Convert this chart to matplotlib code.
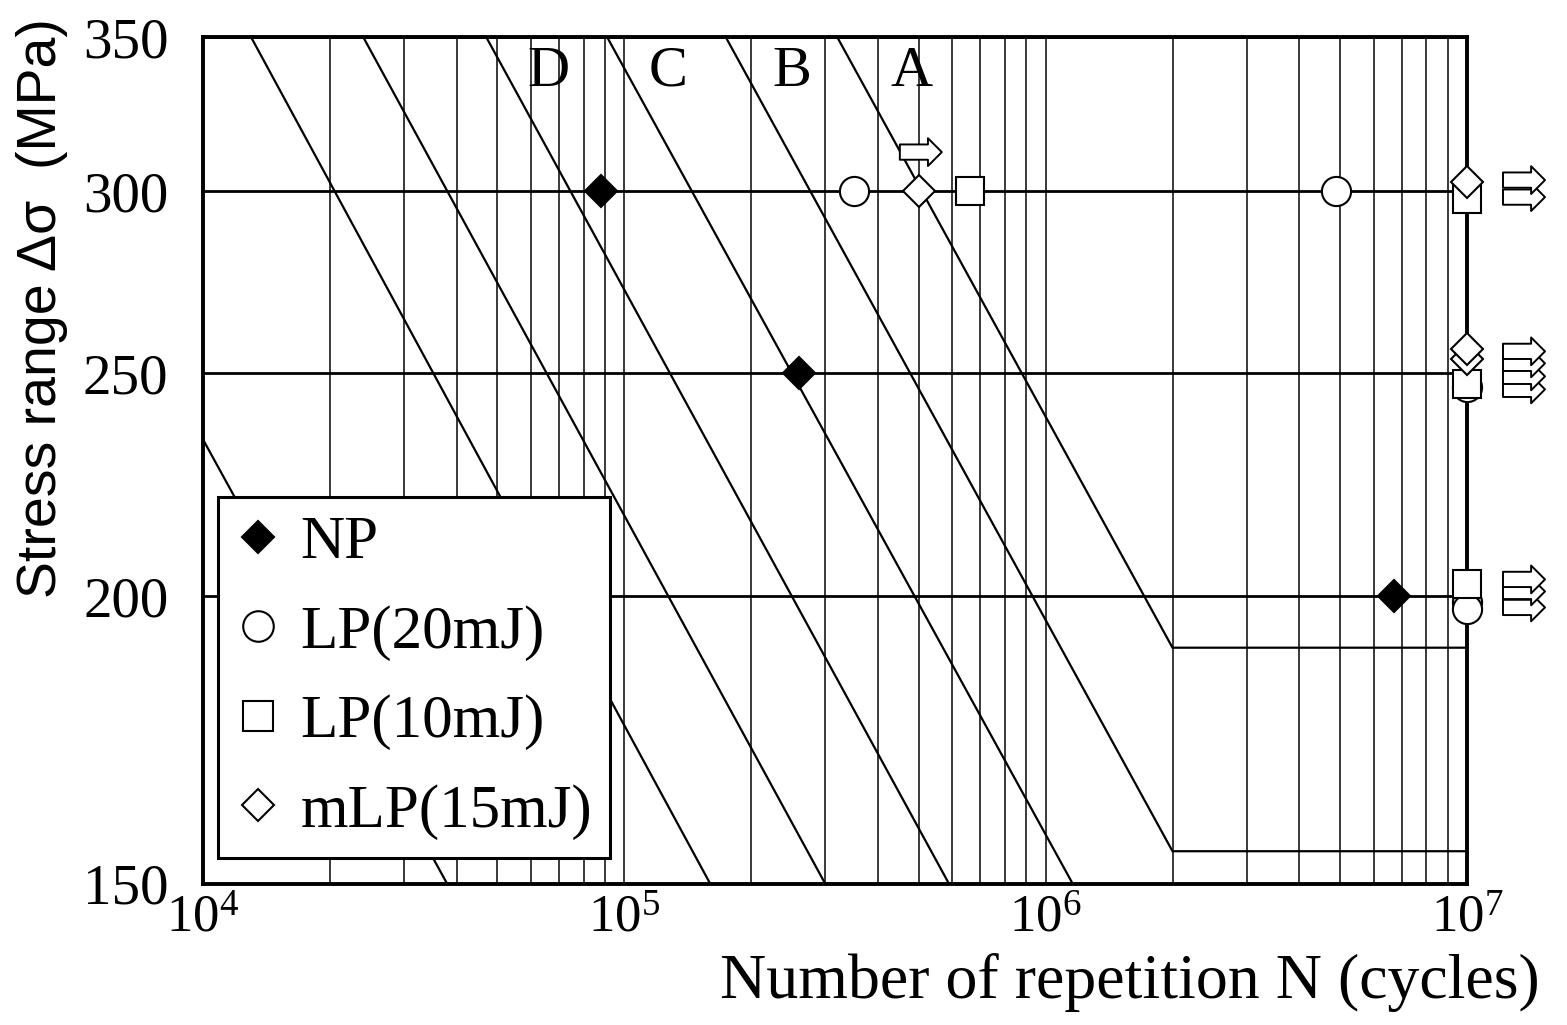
import matplotlib
matplotlib.use('Agg')
import matplotlib.pyplot as plt
import matplotlib.transforms as mtransforms
from matplotlib.ticker import FixedLocator, LogLocator, NullLocator, NullFormatter, FixedFormatter
from matplotlib.lines import Line2D

plt.rcParams['font.family'] = ['Liberation Serif', 'DejaVu Serif']
plt.rcParams['mathtext.fontset'] = 'stix'

# design curves, vertices (N, stress range)
curve_names = ['A', 'B', 'C', 'D', 'E', 'F', 'H']
curve_N = [[3.2e5, 2.0e6, 1.0e7],
           [1.74e5, 2.0e6, 1.0e7],
           [9.1e4, 1.16e6],
           [4.7e4, 5.9e5],
           [2.4e4, 3.0e5],
           [1.3e4, 1.6e5],
           [1.0e4, 3.8e4]]
curve_S = [[350, 190, 190],
           [350, 155, 155],
           [350, 150],
           [350, 150],
           [350, 150],
           [350, 150],
           [234, 150]]
label_names = ['A', 'B', 'C', 'D']
label_N = [4.8e5, 2.5e5, 1.27e5, 6.6e4]
label_S = [338, 338, 338, 338]

# broken specimens
np_N = [8.8e4, 2.6e5, 6.7e6]
np_S = [300, 250, 200]
lp20_N = [3.5e5, 4.9e6]
lp20_S = [300, 300]
lp10_N = [6.6e5]
lp10_S = [300]
mlp_N = [5.0e5]
mlp_S = [300]

# run-outs (unbroken at 1e7 cycles)
runout_N = [1e7, 1e7, 1e7, 1e7, 1e7, 1e7, 1e7, 1e7, 1e7]
runout_S = [250, 200, 200, 300, 250, 200, 300, 250, 250]
runout_kind = ['lp20', 'lp20', 'lp20', 'lp10', 'lp10', 'lp10', 'mlp', 'mlp', 'mlp']

# pixel nudges so overlapping run-outs stay visible
marker_dy = [-14, -6, -13, -8, -11, 12, 9, 14, 24]
arrow_dy = [-16, -11, 5, -6, -3, 17, 11, 10, 22]

styles = {
    'np':   dict(marker='D', ms=16, mfc='black', mec='black', mew=1.5),
    'lp20': dict(marker='o', ms=21, mfc='white', mec='black', mew=1.5),
    'lp10': dict(marker='s', ms=20, mfc='white', mec='black', mew=1.5),
    'mlp':  dict(marker='D', ms=16, mfc='white', mec='black', mew=1.5),
}

fig = plt.figure(figsize=(15.67, 10.25), dpi=100)
ax = fig.add_axes([203/1567, 1-884/1025, 1264/1567, 847/1025])
ax.set_xscale('log')
ax.set_yscale('log')
ax.set_xlim(1e4, 1e7)
ax.set_ylim(150, 350)

# grid
ax.xaxis.set_major_locator(LogLocator(base=10, numticks=10))
ax.xaxis.set_minor_locator(LogLocator(base=10, subs=range(2, 10), numticks=20))
ax.xaxis.set_minor_formatter(NullFormatter())
ax.yaxis.set_major_locator(FixedLocator([150, 200, 250, 300, 350]))
ax.yaxis.set_major_formatter(FixedFormatter(['150', '200', '250', '300', '350']))
ax.yaxis.set_minor_locator(NullLocator())
ax.grid(True, which='both', axis='x', color='#2a2a2a', lw=1.3)
ax.grid(True, which='major', axis='y', color='black', lw=2.0)
ax.set_axisbelow(True)
ax.tick_params(which='both', length=0)
ax.tick_params(axis='y', labelsize=41, pad=25)
ax.tick_params(axis='x', labelsize=38, pad=8)
for sp in ax.spines.values():
    sp.set_linewidth(2.8)

# design curves
for n, s in zip(curve_N, curve_S):
    ax.plot(n, s, color='black', lw=1.6, zorder=2)
for name, n, s in zip(label_names, label_N, label_S):
    ax.text(n, s, name, fontsize=42, ha='center', va='center')

# broken data
ax.plot(lp20_N, lp20_S, ls='none', zorder=4, **styles['lp20'])
ax.plot(lp10_N, lp10_S, ls='none', zorder=4, **styles['lp10'])
ax.plot(mlp_N, mlp_S, ls='none', zorder=4, **styles['mlp'])
ax.plot(np_N, np_S, ls='none', zorder=4, **styles['np'])

arrow_props = dict(arrowstyle='simple,head_length=1.0,head_width=2.0,tail_width=1.1',
                   mutation_scale=10, fc='white', ec='black', lw=1.4,
                   shrinkA=0, shrinkB=0)


def run_arrow(n, s, x0, x1, dy):
    head = mtransforms.offset_copy(ax.transData, fig=fig, x=x1, y=dy, units='dots')
    ax.annotate('', xy=(n, s), xycoords=head,
                xytext=(x0 - x1, 0), textcoords='offset pixels',
                arrowprops=arrow_props, annotation_clip=False, zorder=6)


# run-outs
for i, (n, s, k) in enumerate(zip(runout_N, runout_S, runout_kind)):
    tr = mtransforms.offset_copy(ax.transData, fig=fig, x=0, y=marker_dy[i], units='dots')
    ax.plot([n], [s], ls='none', transform=tr, clip_on=False, zorder=5 + i * 0.01, **styles[k])
    run_arrow(n, s, 36, 78, arrow_dy[i])

# arrow over the mLP point at 5e5
run_arrow(mlp_N[0], mlp_S[0], -19, 23, 39)

# legend
handles = [Line2D([], [], ls='none', **dict(styles['np'], ms=16)),
           Line2D([], [], ls='none', **dict(styles['lp20'], ms=22)),
           Line2D([], [], ls='none', **dict(styles['lp10'], ms=21)),
           Line2D([], [], ls='none', **dict(styles['mlp'], ms=16))]
leg = ax.legend(handles, ['NP', 'LP(20mJ)', 'LP(10mJ)', 'mLP(15mJ)'],
                loc='lower left', bbox_to_anchor=(15/1264, 26/847), borderaxespad=0,
                fontsize=44, frameon=True, fancybox=False, shadow=False,
                handlelength=0.7, handletextpad=0.35, labelspacing=0.55,
                borderpad=0.3, framealpha=1)
leg.get_frame().set_edgecolor('black')
leg.get_frame().set_linewidth(2.2)
leg.set_zorder(10)

fig.text(1540/1567, 1-982/1025, 'Number of repetition N (cycles)', fontsize=46,
         ha='right', va='center')
fig.text(42/1567, 1-308/1025, 'Stress range \u0394\u03c3  (MPa)', fontsize=40,
         family=['Liberation Sans', 'DejaVu Sans'], rotation=90,
         ha='center', va='center')

fig.savefig('out.png', dpi=100)
